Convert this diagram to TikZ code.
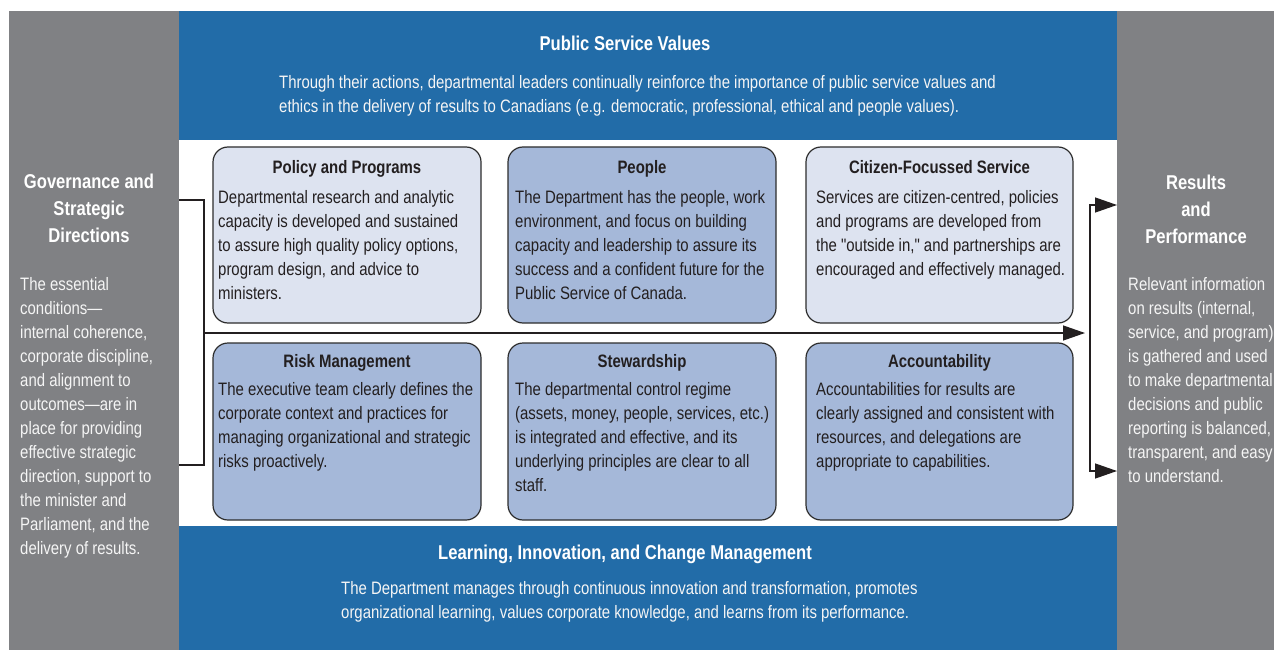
\documentclass[tikz,border=0pt]{standalone}
\usepackage{fontspec}
\setmainfont{Liberation Sans}[FakeStretch=0.83, Ligatures=TeXOff]
\usetikzlibrary{arrows.meta}

\definecolor{panelgray}{RGB}{128,129,132}
\definecolor{bandblue}{RGB}{34,108,168}
\definecolor{boxlight}{RGB}{221,227,240}
\definecolor{boxdark}{RGB}{165,184,217}
\definecolor{boxline}{RGB}{45,45,45}
\definecolor{inktext}{RGB}{35,31,32}
\definecolor{paletext}{RGB}{245,245,245}

\tikzset{
  panel/.style={inner sep=0pt, outer sep=0pt, anchor=north west},
  areabox/.style={panel, draw=boxline, line width=1.2pt, rounded corners=15pt},
  bodyfont/.style={font=\fontsize{18}{24}\selectfont},
  headfont/.style={font=\bfseries\fontsize{20}{27}\selectfont},
  boxhead/.style={inner sep=0pt, anchor=north, align=center, text=inktext,
                  font=\bfseries\fontsize{18}{24}\selectfont},
  boxtext/.style={inner sep=0pt, anchor=north west, align=left, text=inktext, bodyfont},
  whitehead/.style={inner sep=0pt, anchor=north, align=center, text=white, headfont},
  whitetext/.style={inner sep=0pt, anchor=north west, align=left, text=paletext, bodyfont},
  conn/.style={draw=inktext, line width=1.3pt},
  tip/.style={-{Triangle[length=22pt,width=15pt]}},
}

\begin{document}
\begin{tikzpicture}[x=1pt,y=-1pt]
\useasboundingbox[fill=white] (0,0) rectangle (1274,650);

% outer panels and bands
\node[panel, fill=panelgray, minimum width=170pt, minimum height=639pt] (gov) at (9,11) {};
\node[panel, fill=panelgray, minimum width=157pt, minimum height=639pt] (res) at (1117,11) {};
\node[panel, fill=bandblue, minimum width=938pt, minimum height=129pt] (values) at (179,11) {};
\node[panel, fill=bandblue, minimum width=938pt, minimum height=124pt] (learn) at (179,526) {};

% six management areas
\node[areabox, fill=boxlight, minimum width=268pt, minimum height=176pt] (policy) at (213,147) {};
\node[areabox, fill=boxdark,  minimum width=268pt, minimum height=176pt] (people) at (508,147) {};
\node[areabox, fill=boxlight, minimum width=267pt, minimum height=176pt] (citizen) at (806,147) {};
\node[areabox, fill=boxdark,  minimum width=268pt, minimum height=177pt] (risk) at (213,343) {};
\node[areabox, fill=boxdark,  minimum width=268pt, minimum height=177pt] (steward) at (508,343) {};
\node[areabox, fill=boxdark,  minimum width=267pt, minimum height=177pt] (account) at (806,343) {};

% connectors
\coordinate (lt) at (204,200);
\coordinate (lb) at (204,465);
\coordinate (lm) at (204,333);
\coordinate (rm) at (1085,333);
\coordinate (rt) at (1090,205);
\coordinate (rb) at (1090,471);
\draw[conn] (gov.east |- lt) -- (lt) -- (lb) -- (gov.east |- lb);
\draw[conn, tip] (lm) -- (rm);
\draw[conn, {Triangle[length=22pt,width=15pt]}-{Triangle[length=22pt,width=15pt]}]
  (res.west |- rt) -- (rt) -- (rb) -- (res.west |- rb);

% band texts
\node[whitehead] (valuesT) at (625,50-18.9) {\strut Public Service Values};
\node[whitetext] (valuesX) at (279,88-16.8) {\strut Through their actions, departmental leaders continually reinforce the importance of public service values and\\
ethics in the delivery of results to Canadians (e.g. democratic, professional, ethical and people values).};
\node[whitehead] (learnT) at (625,559-18.9) {\strut Learning, Innovation, and Change Management};
\node[whitetext] (learnX) at (341,594-16.8) {\strut The Department manages through continuous innovation and transformation, promotes\\
organizational learning, values corporate knowledge, and learns from its performance.};

% side panel texts
\node[whitehead] (govT) at (89,188-18.9) {\strut Governance and\\Strategic\\Directions};
\node[whitetext] (govX) at (20,290-16.8) {\strut The essential\\conditions—\\internal coherence,\\corporate discipline,\\and alignment to\\outcomes—are in\\place for providing\\effective strategic\\direction, support to\\the minister and\\Parliament, and the\\delivery of results.};
\node[whitehead] (resT) at (1196,189-18.9) {\strut Results\\and\\Performance};
\node[whitetext] (resX) at (1128,290-16.8) {\strut Relevant information\\on results (internal,\\service, and program)\\is gathered and used\\to make departmental\\decisions and public\\reporting is balanced,\\transparent, and easy\\to understand.};

% area texts, top row
\node[boxhead] (policyT) at (policy.north |- 0,173-16.8) {\strut Policy and Programs};
\node[boxtext] (policyX) at (218,203-16.8) {\strut Departmental research and analytic\\capacity is developed and sustained\\to assure high quality policy options,\\program design, and advice to\\ministers.};
\node[boxhead] (peopleT) at (people.north |- 0,173-16.8) {\strut People};
\node[boxtext] (peopleX) at (515,203-16.8) {\strut The Department has the people, work\\environment, and focus on building\\capacity and leadership to assure its\\success and a confident future for the\\Public Service of Canada.};
\node[boxhead] (citizenT) at (citizen.north |- 0,173-16.8) {\strut Citizen-Focussed Service};
\node[boxtext] (citizenX) at (816,203-16.8) {\strut Services are citizen-centred, policies\\and programs are developed from\\the "outside in," and partnerships are\\encouraged and effectively managed.};

% area texts, bottom row
\node[boxhead] (riskT) at (risk.north |- 0,367-16.8) {\strut Risk Management};
\node[boxtext] (riskX) at (218,395-16.8) {\strut The executive team clearly defines the\\corporate context and practices for\\managing organizational and strategic\\risks proactively.};
\node[boxhead] (stewardT) at (steward.north |- 0,367-16.8) {\strut Stewardship};
\node[boxtext] (stewardX) at (515,395-16.8) {\strut The departmental control regime\\(assets, money, people, services, etc.)\\is integrated and effective, and its\\underlying principles are clear to all\\staff.};
\node[boxhead] (accountT) at (account.north |- 0,367-16.8) {\strut Accountability};
\node[boxtext] (accountX) at (816,395-16.8) {\strut Accountabilities for results are\\clearly assigned and consistent with\\resources, and delegations are\\appropriate to capabilities.};
\end{tikzpicture}
\end{document}
